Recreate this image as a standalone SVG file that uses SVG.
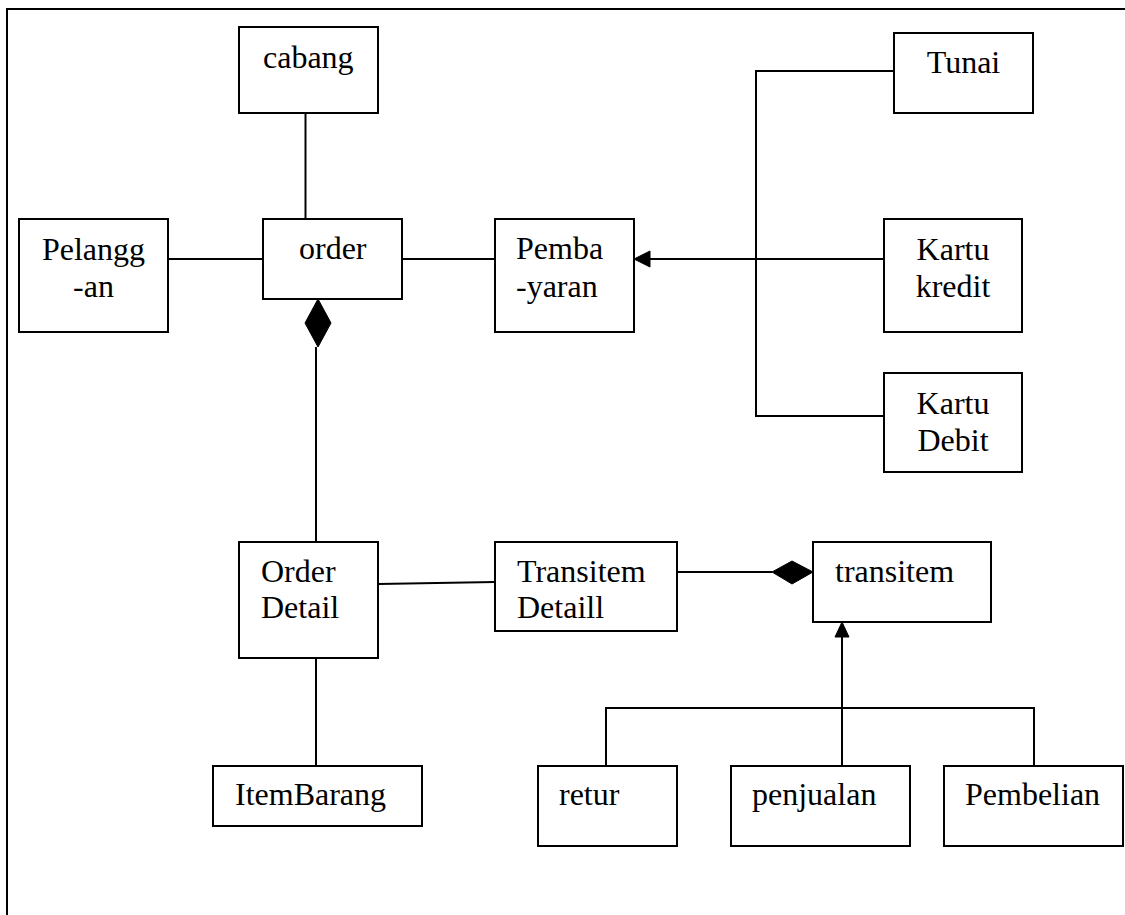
<svg xmlns="http://www.w3.org/2000/svg" width="1125" height="915" viewBox="0 0 1125 915">
  <style>
    .box { fill: #ffffff; stroke: #000000; stroke-width: 2; }
    .lbl { font-family: "Liberation Serif", "Times New Roman", serif; font-size: 32px; fill: #000000; }
    .mid { text-anchor: middle; }
    .conn { fill: none; stroke: #000000; stroke-width: 2; }
    .head { fill: #000000; stroke: #000000; stroke-width: 1; }
  </style>

  <!-- outer frame -->
  <rect x="7" y="9" width="1130" height="920" fill="none" stroke="#000" stroke-width="2"/>

  <!-- connectors -->
  <g id="connectors">
    <line class="conn" x1="305.5" y1="113" x2="305.5" y2="219"/>
    <line class="conn" x1="168" y1="259" x2="263" y2="259"/>
    <line class="conn" x1="402" y1="259" x2="495" y2="259"/>
    <!-- generalisation: payment types -->
    <polyline class="conn" points="894,71 756,71 756,416 884,416"/>
    <line class="conn" x1="648" y1="259" x2="884" y2="259"/>
    <polygon class="head" points="634,259 650,251 650,267"/>
    <!-- composition: order / order detail -->
    <polygon class="head" points="318,299 331,323 318,347 305,323"/>
    <line class="conn" x1="316" y1="347" x2="316" y2="542"/>
    <line class="conn" x1="316" y1="658" x2="316" y2="766"/>
    <line class="conn" x1="378" y1="584" x2="495" y2="582"/>
    <!-- composition: transitem detail / transitem -->
    <line class="conn" x1="677" y1="572" x2="772" y2="572"/>
    <polygon class="head" points="772,572 792,561 813,572 792,584"/>
    <!-- generalisation: transitem types -->
    <line class="conn" x1="842" y1="637" x2="842" y2="766"/>
    <polygon class="head" points="842,622 849,637 835,637"/>
    <polyline class="conn" points="606,766 606,708 1034,708 1034,766"/>
  </g>

  <g id="cabang">
    <rect class="box" x="239" y="27" width="139" height="86"/>
    <text class="lbl" x="263" y="68">cabang</text>
  </g>
  <g id="order">
    <rect class="box" x="263" y="219" width="139" height="80"/>
    <text class="lbl" x="299" y="259">order</text>
  </g>
  <g id="pelanggan">
    <rect class="box" x="19" y="219" width="149" height="113"/>
    <text class="lbl mid" x="93.5" y="260">Pelangg</text>
    <text class="lbl mid" x="93.5" y="297">-an</text>
  </g>
  <g id="pembayaran">
    <rect class="box" x="495" y="219" width="139" height="113"/>
    <text class="lbl" x="516" y="259">Pemba</text>
    <text class="lbl" x="516" y="297">-yaran</text>
  </g>
  <g id="tunai">
    <rect class="box" x="894" y="33" width="139" height="80"/>
    <text class="lbl mid" x="963.5" y="73">Tunai</text>
  </g>
  <g id="kartu-kredit">
    <rect class="box" x="884" y="219" width="138" height="113"/>
    <text class="lbl mid" x="953" y="260">Kartu</text>
    <text class="lbl mid" x="953" y="297">kredit</text>
  </g>
  <g id="kartu-debit">
    <rect class="box" x="884" y="373" width="138" height="99"/>
    <text class="lbl mid" x="953" y="414">Kartu</text>
    <text class="lbl mid" x="953" y="451">Debit</text>
  </g>
  <g id="order-detail">
    <rect class="box" x="239" y="542" width="139" height="116"/>
    <text class="lbl" x="261" y="582">Order</text>
    <text class="lbl" x="261" y="618">Detail</text>
  </g>
  <g id="transitem-detail">
    <rect class="box" x="495" y="542" width="182" height="89"/>
    <text class="lbl" x="517" y="582">Transitem</text>
    <text class="lbl" x="517" y="618">Detaill</text>
  </g>
  <g id="transitem">
    <rect class="box" x="813" y="542" width="178" height="80"/>
    <text class="lbl" x="835" y="582">transitem</text>
  </g>
  <g id="item-barang">
    <rect class="box" x="213" y="766" width="209" height="60"/>
    <text class="lbl" x="235" y="805">ItemBarang</text>
  </g>
  <g id="retur">
    <rect class="box" x="538" y="766" width="139" height="80"/>
    <text class="lbl" x="559" y="805">retur</text>
  </g>
  <g id="penjualan">
    <rect class="box" x="731" y="766" width="179" height="80"/>
    <text class="lbl" x="752" y="805">penjualan</text>
  </g>
  <g id="pembelian">
    <rect class="box" x="944" y="766" width="179" height="80"/>
    <text class="lbl" x="965" y="805">Pembelian</text>
  </g>
</svg>
